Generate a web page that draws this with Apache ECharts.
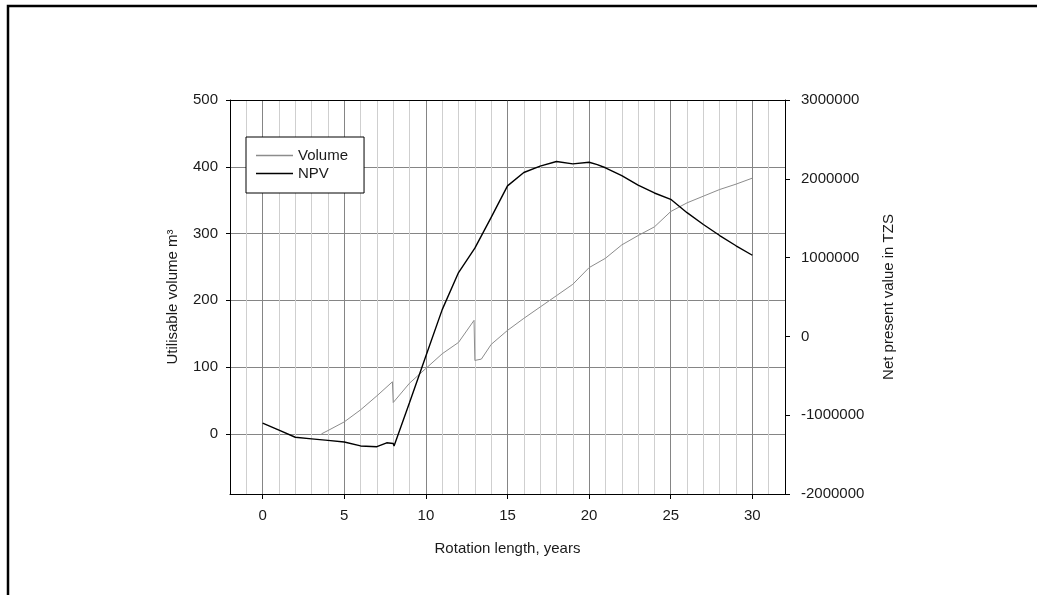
<!DOCTYPE html>
<html>
<head>
<meta charset="utf-8">
<script src="https://cdn.jsdelivr.net/npm/echarts@6/dist/echarts.min.js"></script>
<style>
  html, body { margin: 0; padding: 0; background: #fff; }
  #chart { width: 1037px; height: 595px; }
</style>
</head>
<body>
<div id="chart"></div>
<script>
// volume curve (left axis, m3) - drops at the thinnings in year 8 and 13
const volumeYears = [3.6, 4, 5, 6, 7, 7.95, 8, 9, 10, 11, 12, 12.95, 13, 13.4, 14, 15, 16, 17, 18, 19, 20, 21, 22, 23, 24, 25, 26, 27, 28, 29, 30];
const volumeValues = [0, 5, 18, 36, 57, 78, 47, 76, 98, 120, 137, 170, 110, 112, 134, 155, 173, 190, 207, 224, 249, 263, 283, 297, 310, 333, 346, 356, 366, 374, 383];

// net present value (right axis, TZS)
const npvYears = [0, 1, 2, 3, 4, 5, 6, 7, 7.6, 8, 8.05, 9, 10, 11, 12, 13, 14, 15, 16, 17, 18, 19, 20, 20.5, 21, 22, 23, 24, 25, 26, 27, 28, 29, 30];
const npvValues = [-1100000, -1190000, -1280000, -1300000, -1320000, -1340000, -1390000, -1400000, -1350000, -1360000, -1390000, -840000, -250000, 340000, 810000, 1120000, 1510000, 1910000, 2080000, 2160000, 2220000, 2190000, 2210000, 2180000, 2140000, 2040000, 1920000, 1820000, 1740000, 1570000, 1420000, 1280000, 1150000, 1030000];

const xTicks = [0, 5, 10, 15, 20, 25, 30];
const volumeTicks = [0, 100, 200, 300, 400, 500];

const font = 'Liberation Sans, Arial, sans-serif';
const textColor = '#1a1a1a';
const majorGrid = '#858585';
const minorGrid = '#cfcfcf';
const none = 'rgba(0,0,0,0)';

const chart = echarts.init(document.getElementById('chart'));

const option = {
  animation: false,
  backgroundColor: '#fff',
  textStyle: { fontFamily: font },
  graphic: [
    {
      type: 'polyline',
      shape: { points: [[8, 595], [8, 6], [1037, 6]] },
      style: { stroke: '#000', lineWidth: 2.5, fill: null },
      silent: true
    }
  ],
  grid: { left: 230, right: 252, top: 100, bottom: 101 },
  legend: {
    left: 246,
    top: 137,
    orient: 'vertical',
    padding: [11, 16, 12, 10],
    itemGap: 3,
    itemWidth: 37,
    itemHeight: 1.5,
    icon: 'rect',
    borderColor: '#000',
    borderWidth: 1,
    borderRadius: 0,
    backgroundColor: '#fff',
    textStyle: { fontFamily: font, fontSize: 15, color: textColor },
    data: ['Volume', 'NPV']
  },
  xAxis: [
    {
      type: 'value',
      position: 'bottom',
      min: -2,
      max: 32,
      interval: 1,
      name: 'Rotation length, years',
      nameLocation: 'middle',
      nameGap: 47,
      nameTextStyle: { fontFamily: font, fontSize: 15, color: textColor },
      axisLine: { show: true, onZero: false, lineStyle: { color: '#000', width: 1 } },
      axisTick: { show: true, customValues: xTicks, length: 5, lineStyle: { color: '#000' } },
      axisLabel: { customValues: xTicks, margin: 14, fontFamily: font, fontSize: 15, color: textColor },
      splitLine: { show: false }
    },
    {
      // top frame line, also carries the yearly grid lines
      type: 'value',
      position: 'top',
      min: -2,
      max: 32,
      interval: 1,
      axisLine: { show: true, onZero: false, lineStyle: { color: '#000', width: 1 } },
      axisTick: { show: false },
      axisLabel: { show: false },
      splitLine: { show: true, lineStyle: { color: [minorGrid, minorGrid, majorGrid, minorGrid, minorGrid], width: 1 } }
    }
  ],
  yAxis: [
    {
      type: 'value',
      position: 'left',
      min: -90,
      max: 500,
      interval: 10,
      name: 'Utilisable volume m³',
      nameLocation: 'middle',
      nameRotate: 90,
      nameGap: 50,
      nameTextStyle: { fontFamily: font, fontSize: 15, color: textColor },
      axisLine: { show: true, onZero: false, lineStyle: { color: '#000', width: 1 } },
      axisTick: { show: true, customValues: volumeTicks, length: 4, lineStyle: { color: '#000' } },
      axisLabel: { customValues: volumeTicks, margin: 12, fontFamily: font, fontSize: 15, color: textColor },
      splitLine: { show: false }
    },
    {
      type: 'value',
      position: 'right',
      min: -2000000,
      max: 3000000,
      interval: 1000000,
      name: 'Net present value in TZS',
      nameLocation: 'middle',
      nameRotate: 90,
      nameGap: 96,
      nameTextStyle: { fontFamily: font, fontSize: 15, color: textColor },
      axisLine: { show: true, onZero: false, lineStyle: { color: '#000', width: 1 } },
      axisTick: { show: true, length: 5, lineStyle: { color: '#000' } },
      axisLabel: { margin: 16, fontFamily: font, fontSize: 15, color: textColor, formatter: v => String(v) },
      splitLine: { show: false }
    },
    {
      // horizontal grid lines every 100 m3
      type: 'value',
      position: 'left',
      min: -90,
      max: 500,
      interval: 10,
      axisLine: { show: false },
      axisTick: { show: false },
      axisLabel: { show: false },
      splitLine: {
        show: true,
        lineStyle: { color: [none, none, none, none, none, none, none, none, none, majorGrid], width: 1 }
      }
    }
  ],
  series: [
    {
      name: 'Volume',
      type: 'line',
      xAxisIndex: 0,
      yAxisIndex: 0,
      symbol: 'none',
      lineStyle: { color: '#8c8c8c', width: 1 },
      itemStyle: { color: '#8c8c8c' },
      data: volumeYears.map((x, i) => [x, volumeValues[i]])
    },
    {
      name: 'NPV',
      type: 'line',
      xAxisIndex: 0,
      yAxisIndex: 1,
      symbol: 'none',
      lineStyle: { color: '#000', width: 1.4 },
      itemStyle: { color: '#000' },
      data: npvYears.map((x, i) => [x, npvValues[i]])
    }
  ]
};

chart.setOption(option);
</script>
</body>
</html>
